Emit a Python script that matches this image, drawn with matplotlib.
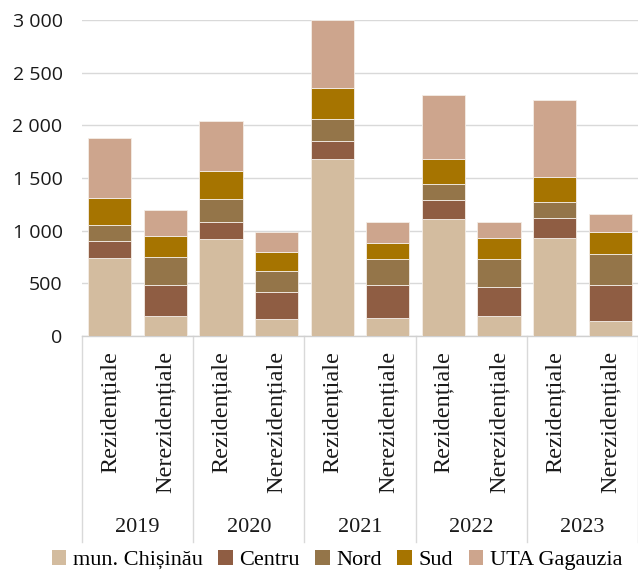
import matplotlib
matplotlib.use("Agg")
import matplotlib.pyplot as plt
import matplotlib.transforms as mtransforms
from matplotlib.patches import Patch
import numpy as np

# Data: two bars per year (residential / non-residential), stacked by region
years = ["2019", "2020", "2021", "2022", "2023"]
kinds = ["Rezidențiale", "Nerezidențiale"]
regions = ["mun. Chișinău", "Centru", "Nord", "Sud", "UTA Gagauzia"]

chisinau = [739, 188, 919, 157, 1679, 173, 1109, 188, 935, 147]
centru   = [165, 298, 168, 259,  175, 307,  181, 275, 188, 333]
nord     = [152, 266, 212, 197,  209, 253,  155, 266, 151, 294]
sud      = [250, 202, 263, 189,  294, 152,  234, 206, 238, 216]
uta      = [576, 244, 475, 181,  639, 196,  612, 152, 731, 164]

colors = ["#D3BC9F", "#8F5D43", "#947549", "#A67400", "#CDA58D"]
yticks = [0, 500, 1000, 1500, 2000, 2500, 3000]

serif = "Liberation Serif"
sans = "Open Sans"

fig = plt.figure(figsize=(6.38, 5.72), dpi=100)
ax = fig.add_axes([0.1285, 0.4126, 0.8715, 0.5524])

series = [chisinau, centru, nord, sud, uta]
x = np.arange(len(chisinau))
bottom = np.zeros(len(x))
for vals, col, name in zip(series, colors, regions):
    ax.bar(x, vals, width=0.78, bottom=bottom, color=col,
           edgecolor="#F4EDE6", linewidth=0.6, label=name, zorder=3)
    bottom += np.array(vals)

ax.set_xlim(-0.5, len(x) - 0.5)
ax.set_ylim(0, 3000)
ax.set_yticks(yticks)
ax.set_yticklabels([f"{v:,}".replace(",", " ") for v in yticks],
                   fontfamily=sans, fontsize=14, color="#1a1a1a")
ax.tick_params(axis="y", length=0, pad=14)
ax.set_xticks([])
ax.grid(axis="y", color="#D9D9D9", linewidth=1.0, zorder=0)
for s in ["top", "right", "left"]:
    ax.spines[s].set_visible(False)
ax.spines["bottom"].set_color("#D0D0D0")
ax.spines["bottom"].set_linewidth(1.0)

# Two-level category axis
trans = mtransforms.blended_transform_factory(ax.transData, fig.transFigure)
for i in x:
    ax.text(i, 0.386, kinds[i % 2], rotation=90, ha="center", va="top",
            fontfamily=serif, fontsize=17.5, transform=trans, color="#1a1a1a")
for j, yr in enumerate(years):
    ax.text(2 * j + 0.5, 0.077, yr, ha="center", va="center",
            fontfamily=serif, fontsize=16, transform=trans, color="#1a1a1a")
for b in np.arange(-0.5, len(x), 2):
    ax.plot([b, b], [0.4126, 0.052], transform=trans, color="#D9D9D9",
            linewidth=1.0, clip_on=False)

handles = [Patch(facecolor=c, edgecolor="none") for c in colors]
fig.legend(handles, regions, loc="center", bbox_to_anchor=(0.528, 0.021),
           ncol=5, frameon=False, prop={"family": serif, "size": 16},
           handlelength=0.65, handleheight=0.65, handletextpad=0.3,
           columnspacing=0.7, borderaxespad=0)

fig.savefig("out.png", dpi=100)
